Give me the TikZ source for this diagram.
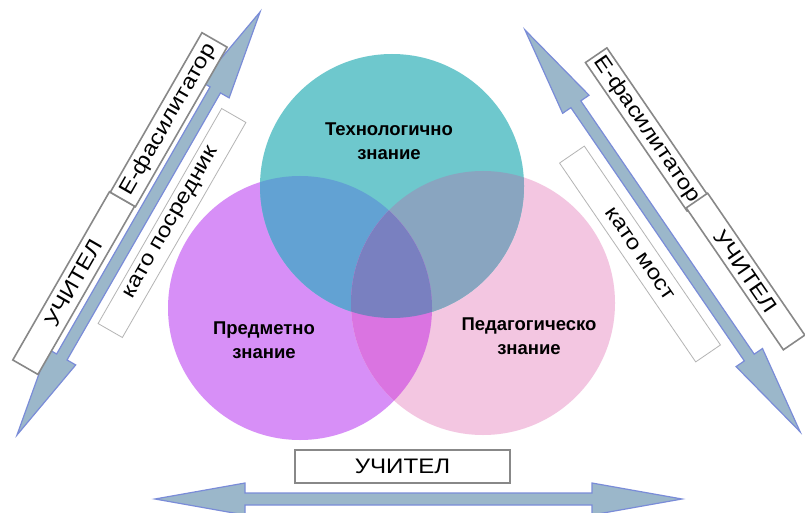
\documentclass[tikz,border=0pt]{standalone}
\usepackage{fontspec}
\setmainfont{Liberation Sans}
\newfontfamily\boxfont[FakeStretch=1.15]{Liberation Sans}
\definecolor{cteal}{HTML}{6EC8CD}
\definecolor{cpurple}{HTML}{D78FF7}
\definecolor{cpink}{HTML}{F3C6E1}
\definecolor{ctp}{HTML}{62A2D3}
\definecolor{ctk}{HTML}{89A5C0}
\definecolor{cpk}{HTML}{DA74E1}
\definecolor{cctr}{HTML}{7980C0}
\definecolor{arrfill}{HTML}{9BB7CA}
\definecolor{arrline}{HTML}{7A8CD8}
\definecolor{boxline}{HTML}{888888}
\definecolor{lightline}{HTML}{B4B4B4}
\newcommand\dblarr[1]{%
  \filldraw[arrst] (0pt,0pt) -- (90pt,16pt) -- (90pt,6pt) -- ({#1pt-90pt},6pt) -- ({#1pt-90pt},16pt) -- (#1pt,0pt)
   -- ({#1pt-90pt},-16pt) -- ({#1pt-90pt},-6pt) -- (90pt,-6pt) -- (90pt,-16pt) -- cycle;}
\begin{document}
\begin{tikzpicture}[x=1pt,y=-1pt,
  arrst/.style={fill=arrfill, draw=arrline, line width=1.2pt, line join=miter},
  venn/.style={circle, minimum size=264pt, inner sep=0pt},
  lbl/.style={align=center, font=\fontsize{18.5}{23.5}\selectfont\bfseries, text=black},
  tbox/.style={draw=boxline, line width=1.6pt, fill=white, inner sep=0pt, font=\boxfont\fontsize{21}{24}\selectfont},
  lbox/.style={draw=lightline, line width=0.8pt, fill=white, inner sep=0pt, font=\boxfont\fontsize{21}{24}\selectfont}
]
\useasboundingbox (0,0) rectangle (805,513);
\fill[white] (0,0) rectangle (805,513);
% arrows
\coordinate (la) at (17,435);
\coordinate (ra) at (525,30);
\coordinate (ba) at (155,499);
\begin{scope}[shift={(la)}, rotate=60.12]\dblarr{488}\end{scope}
\begin{scope}[shift={(ra)}, rotate=-55.6]\dblarr{487}\end{scope}
\begin{scope}[shift={(ba)}]\dblarr{527}\end{scope}
% circles
\node[venn, fill=cpurple] (subj) at (300,308) {};
\node[venn, fill=cpink] (ped) at (483,303) {};
\node[venn, fill=cteal] (tech) at (392,186) {};
\begin{scope}
  \clip (300,308) circle (132pt);
  \fill[ctp] (392,186) circle (132pt);
\end{scope}
\begin{scope}
  \clip (483,303) circle (132pt);
  \fill[ctk] (392,186) circle (132pt);
\end{scope}
\begin{scope}
  \clip (483,303) circle (132pt);
  \fill[cpk] (300,308) circle (132pt);
\end{scope}
\begin{scope}
  \clip (483,303) circle (132pt);
  \clip (300,308) circle (132pt);
  \fill[cctr] (392,186) circle (132pt);
\end{scope}
\node[lbl] (techl) at (389,141) {Технологично\\знание};
\node[lbl] (subjl) at (264,340) {Предметно\\знание};
\node[lbl] (pedl) at (529,336) {Педагогическо\\знание};
% boxes left
\node[tbox, rotate=60.12, minimum width=194pt, minimum height=29pt] (lt) at (73.7,283.1) {УЧИТЕЛ};
\node[tbox, rotate=60.12, minimum width=184pt, minimum height=29pt] (lf) at (168.7,119.7) {Е-фасилитатор};
\node[lbox, rotate=60.12, minimum width=248pt, minimum height=28pt] (lm) at (172,223) {като посредник};
% boxes right
\node[tbox, rotate=-55.6, minimum width=180pt, minimum height=26pt] (rf) at (647,129.5) {Е-фасилитатор};
\node[tbox, rotate=-55.6, minimum width=172pt, minimum height=26pt] (rt) at (745.5,271.5) {УЧИТЕЛ};
\node[lbox, rotate=-55.6, minimum width=241pt, minimum height=30pt] (rm) at (640,254) {като мост};
% bottom
\node[tbox, minimum width=215pt, minimum height=33pt] (bt) at (402.5,466.5) {УЧИТЕЛ};
\end{tikzpicture}
\end{document}
